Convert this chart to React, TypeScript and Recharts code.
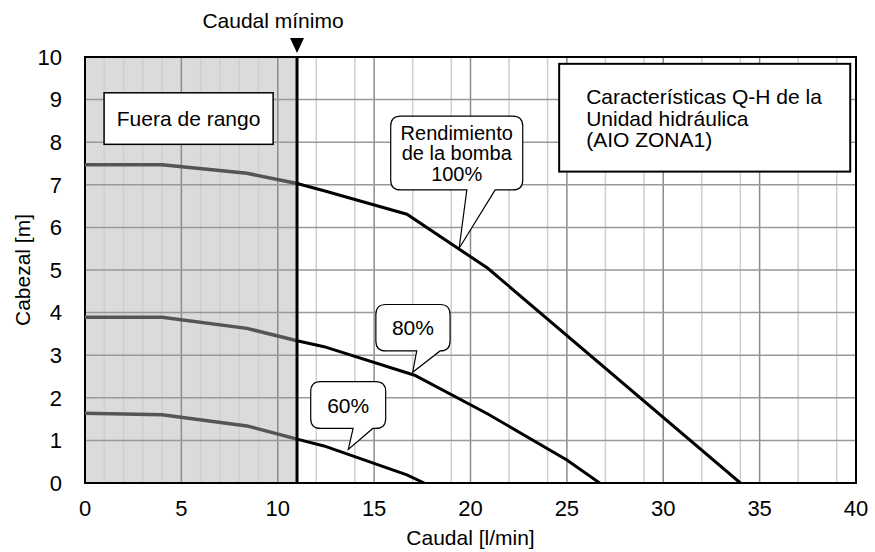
import React from 'react';
import { ComposedChart, Line, XAxis, YAxis, ReferenceLine, ReferenceArea, CartesianGrid } from 'recharts';

const FONT = '"Liberation Sans", Arial, Helvetica, sans-serif';

const xTicks = [0, 5, 10, 15, 20, 25, 30, 35, 40];
const yTicks = [0, 1, 2, 3, 4, 5, 6, 7, 8, 9, 10];
const majorX = [5, 10, 15, 20, 25, 30, 35];
const minorX = [1, 2, 3, 4, 6, 7, 8, 9, 11, 12, 13, 14, 16, 17, 18, 19, 21, 22, 23, 24, 26, 27, 28, 29, 31, 32, 33, 34, 36, 37, 38, 39];
const gridY = [1, 2, 3, 4, 5, 6, 7, 8, 9];
const minFlow = 11;
const shadeBounds = [0, minFlow];

const flow100 = [0, 4, 8.4, 11, 12.4, 16.7, 20.9, 34];
const head100 = [7.47, 7.47, 7.27, 7.03, 6.86, 6.31, 5.04, 0];
const flow80 = [0, 4, 8.4, 11, 12.4, 17.1, 20.9, 25, 26.7];
const head80 = [3.89, 3.89, 3.63, 3.34, 3.2, 2.53, 1.62, 0.54, 0];
const flow60 = [0, 4, 8.4, 11, 12.4, 16.7, 17.6];
const head60 = [1.64, 1.6, 1.34, 1.03, 0.87, 0.19, 0];

const toPts = (xs: number[], ys: number[]) => xs.map((x, i) => ({ x, y: ys[i] }));
const lowPart = (xs: number[], ys: number[]) => toPts(xs, ys).filter((p) => p.x <= minFlow);
const highPart = (xs: number[], ys: number[]) => toPts(xs, ys).filter((p) => p.x >= minFlow);

const curves = [
  { name: '100', xs: flow100, ys: head100 },
  { name: '80', xs: flow80, ys: head80 },
  { name: '60', xs: flow60, ys: head60 },
];

const callouts = [
  { key: 'c100', x1: 15.86, x2: 22.71, y1: 6.88, y2: 8.61, tailFrom: 19.81, tailTo: 21.28, tipX: 19.41, tipY: 5.51, lines: ['Rendimiento', 'de la bomba', '100%'] },
  { key: 'c80', x1: 15.09, x2: 18.94, y1: 3.1, y2: 4.19, tailFrom: 17.21, tailTo: 18.42, tipX: 17.0, tipY: 2.6, lines: ['80%'] },
  { key: 'c60', x1: 11.71, x2: 15.6, y1: 1.28, y2: 2.38, tailFrom: 13.91, tailTo: 14.93, tipX: 13.66, tipY: 0.79, lines: ['60%'] },
];

const outOfRangeText = 'Fuera de rango';
const titleLines = ['Características Q-H de la', 'Unidad hidráulica', '(AIO ZONA1)'];
const minFlowText = 'Caudal mínimo';
const xTitle = 'Caudal [l/min]';
const yTitle = 'Cabezal [m]';

function CalloutShape(props: any) {
  const { x, y, width, height, spec } = props;
  const px = (v: number) => x + ((v - spec.x1) / (spec.x2 - spec.x1)) * width;
  const py = (v: number) => y + ((spec.y2 - v) / (spec.y2 - spec.y1)) * height;
  const r = 10;
  const w = width;
  const h = height;
  const b1 = px(spec.tailFrom);
  const b2 = px(spec.tailTo);
  const tx = px(spec.tipX);
  const ty = py(spec.tipY);
  const d = `M${x + r},${y} H${x + w - r} Q${x + w},${y} ${x + w},${y + r} V${y + h - r} Q${x + w},${y + h} ${x + w - r},${y + h} H${b2} L${tx},${ty} L${b1},${y + h} H${x + r} Q${x},${y + h} ${x},${y + h - r} V${y + r} Q${x},${y} ${x + r},${y} Z`;
  const lh = 20.5;
  const fs = spec.lines.length > 1 ? 20 : 21;
  const cx = x + w / 2;
  const cy0 = y + h / 2 - ((spec.lines.length - 1) * lh) / 2;
  return (
    <g>
      <path d={d} fill="#fff" stroke="#000" strokeWidth={1.2} />
      {spec.lines.map((t: string, i: number) => (
        <text key={i} x={cx} y={cy0 + i * lh} textAnchor="middle" dominantBaseline="central" fontSize={fs} fontFamily={FONT} fill="#000">
          {t}
        </text>
      ))}
    </g>
  );
}

function OutOfRangeBox(props: any) {
  const { x, y, width, height } = props;
  return (
    <g>
      <rect x={x} y={y} width={width} height={height} fill="#fff" stroke="#000" strokeWidth={1.5} />
      <text x={x + width / 2} y={y + height / 2} textAnchor="middle" dominantBaseline="central" fontSize={21} fontFamily={FONT} fill="#000">
        {outOfRangeText}
      </text>
    </g>
  );
}

function TitleBox(props: any) {
  const { x, y, width, height } = props;
  return (
    <g>
      <rect x={x} y={y} width={width} height={height} fill="#fff" stroke="#000" strokeWidth={2} />
      {titleLines.map((t, i) => (
        <text key={i} x={x + 27} y={y + 33 + i * 21.5} dominantBaseline="central" fontSize={21} fontFamily={FONT} fill="#000">
          {t}
        </text>
      ))}
    </g>
  );
}

function MinFlowMark(props: any) {
  const vb = props.viewBox || {};
  const x = vb.x;
  const y = vb.y;
  return (
    <g>
      <polygon points={`${x - 7},${y - 19} ${x + 7},${y - 19} ${x},${y - 4}`} fill="#000" />
      <text x={x - 24} y={y - 37} textAnchor="middle" dominantBaseline="central" fontSize={21} fontFamily={FONT} fill="#000">
        {minFlowText}
      </text>
    </g>
  );
}

function XTitle(props: any) {
  const vb = props.viewBox || {};
  return (
    <text x={vb.x + vb.width / 2} y={vb.y + 54} textAnchor="middle" dominantBaseline="central" fontSize={21} fontFamily={FONT} fill="#000">
      {xTitle}
    </text>
  );
}

function YTitle(props: any) {
  const vb = props.viewBox || {};
  const cx = 22.5;
  const cy = vb.y + vb.height / 2;
  return (
    <text x={cx} y={cy} transform={`rotate(-90 ${cx} ${cy})`} textAnchor="middle" dominantBaseline="central" fontSize={21} fontFamily={FONT} fill="#000">
      {yTitle}
    </text>
  );
}

export default function App() {
  return (
    <div style={{ position: 'absolute', left: 0, top: 0, width: 875, height: 552, background: '#fff' }}>
      <ComposedChart width={875} height={552} margin={{ top: 57, right: 19, left: 25, bottom: 9 }} style={{ fontFamily: FONT }}>
        <CartesianGrid
          horizontal={false}
          vertical={true}
          verticalValues={shadeBounds}
          stroke="none"
          verticalFill={['#dcdbdb', '#ffffff']}
          fillOpacity={1}
        />
        <CartesianGrid horizontal={false} verticalValues={minorX} stroke="#cfcfcf" strokeWidth={1.5} />
        <CartesianGrid horizontal={false} verticalValues={majorX} stroke="#8c8c8c" strokeWidth={1.5} />
        <CartesianGrid vertical={false} horizontalValues={gridY} stroke="#999" strokeWidth={1.5} />
        <XAxis
          dataKey="x"
          type="number"
          domain={[0, 40]}
          ticks={xTicks}
          allowDataOverflow
          axisLine={false}
          tickLine={false}
          tickSize={0}
          tickMargin={17}
          height={60}
          tick={{ fill: '#000', fontSize: 22, fontFamily: FONT }}
          label={(p: any) => <XTitle {...p} />}
        />
        <YAxis
          type="number"
          domain={[0, 10]}
          ticks={yTicks}
          allowDataOverflow
          axisLine={false}
          tickLine={false}
          tickSize={0}
          tickMargin={23}
          width={60}
          tick={{ fill: '#000', fontSize: 22, fontFamily: FONT }}
          label={(p: any) => <YTitle {...p} />}
        />
        <ReferenceArea x1={0} x2={40} y1={0} y2={10} fill="none" stroke="#000" strokeWidth={2} />
        {curves.map((c) => (
          <Line
            key={'low' + c.name}
            data={lowPart(c.xs, c.ys)}
            dataKey="y"
            type="linear"
            dot={false}
            activeDot={false}
            stroke="#555"
            strokeWidth={3.5}
            isAnimationActive={false}
          />
        ))}
        {curves.map((c) => (
          <Line
            key={'high' + c.name}
            data={highPart(c.xs, c.ys)}
            dataKey="y"
            type="linear"
            dot={false}
            activeDot={false}
            stroke="#000"
            strokeWidth={3}
            isAnimationActive={false}
          />
        ))}
        <ReferenceLine x={minFlow} stroke="#000" strokeWidth={3} label={(p: any) => <MinFlowMark {...p} />} />
        <ReferenceArea x1={0.99} x2={9.76} y1={7.95} y2={9.16} shape={(p: any) => <OutOfRangeBox {...p} />} />
        <ReferenceArea x1={24.6} x2={39.7} y1={7.31} y2={9.84} shape={(p: any) => <TitleBox {...p} />} />
        {callouts.map((c) => (
          <ReferenceArea key={c.key} x1={c.x1} x2={c.x2} y1={c.y1} y2={c.y2} shape={(p: any) => <CalloutShape {...p} spec={c} />} />
        ))}
      </ComposedChart>
    </div>
  );
}
